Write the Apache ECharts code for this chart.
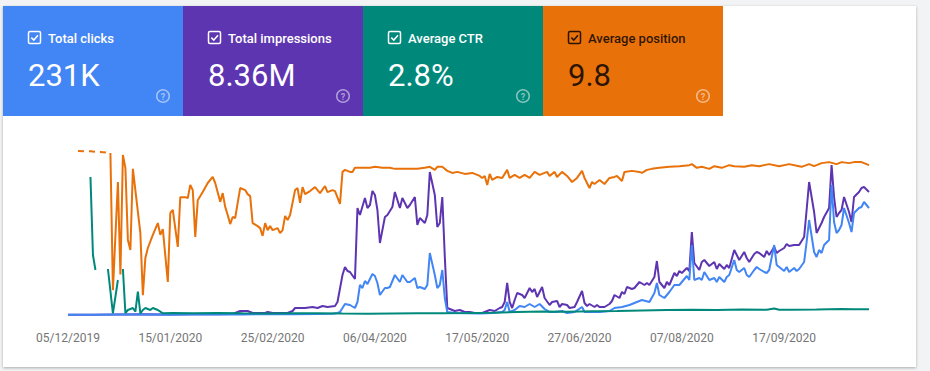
<!DOCTYPE html>
<html><head><meta charset="utf-8">
<script src="https://cdn.jsdelivr.net/npm/echarts@6/dist/echarts.min.js"></script>
<style>html,body{margin:0;padding:0;background:#f1f3f4;}#chart{width:930px;height:371px;}</style>
</head><body><div id="chart"></div>
<script>
// Tiles
const tileTitles = ['Total clicks', 'Total impressions', 'Average CTR', 'Average position'];
const tileValues = ['231K', '8.36M', '2.8%', '9.8'];
const tileColors = ['#4285f4', '#5e35b1', '#00897b', '#e8710a'];

// x axis: one category per day starting 05/12/2019, 322 days
const startDate = [2019, 12, 5];
const dayCount = 322;
const labelEvery = 41;

// Data: [day since 05/12/2019, value]
const clicks = [[0,8],[10,5],[20,12],[30,15],[40,10],[50,12],[60,14],[70,18],[80,20],[90,25],[100,30],[106,40],[108,60],[109,90],[111,330],[113,300],[115,210],[116,390],[117,900],[118,810],[119,1020],[120,930],[122,1230],[123,1170],[124,960],[125,600],[127,810],[128,810],[129,840],[131,1200],[133,990],[134,1200],[136,990],[137,990],[139,1110],[140,810],[141,840],[143,780],[144,900],[145,1860],[147,1200],[148,810],[149,900],[150,1350],[151,510],[152,90],[155,60],[160,50],[165,45],[170,60],[174,90],[175,150],[176,390],[177,90],[179,150],[181,270],[183,240],[185,330],[187,240],[189,330],[191,180],[193,90],[195,90],[198,120],[200,60],[203,90],[206,240],[207,90],[210,90],[213,90],[217,120],[219,210],[222,240],[225,300],[227,360],[230,450],[233,390],[235,660],[236,960],[237,600],[239,510],[241,690],[243,900],[245,900],[246,990],[248,1170],[249,1050],[250,2100],[251,1050],[253,1110],[254,1050],[255,1290],[257,1050],[259,1110],[260,990],[261,1140],[263,990],[264,1140],[265,1200],[267,1650],[268,1350],[269,1290],[271,1410],[272,1200],[273,1140],[275,1350],[276,1440],[277,1380],[279,1290],[280,1260],[281,1350],[283,2100],[284,1500],[285,1440],[287,1320],[288,1440],[289,1290],[291,1410],[292,1320],[293,1380],[295,1590],[296,2190],[297,2850],[299,1890],[300,1740],[301,1950],[302,1860],[303,2100],[305,2250],[306,3900],[307,2790],[308,2460],[309,2550],[310,2700],[311,3210],[313,2760],[314,2490],[315,3060],[317,3210],[318,3240],[319,3390],[321,3210]];

const impressions = [[0,200],[10,100],[20,300],[30,400],[40,300],[50,400],[60,500],[66,600],[69,2400],[72,2400],[74,1200],[76,1200],[79,1200],[80,1800],[82,1200],[86,1200],[88,1200],[90,2400],[91,4200],[94,4200],[95,4200],[98,4800],[100,4200],[102,5400],[104,4800],[107,5400],[108,7800],[110,24000],[111,28800],[112,26400],[113,25800],[115,21600],[116,64200],[117,60000],[119,70200],[120,64200],[121,66000],[122,74400],[123,72000],[124,63000],[125,43200],[127,58800],[128,60000],[130,64800],[131,73800],[133,64200],[134,70200],[136,64200],[137,66000],[139,70800],[140,54000],[141,58200],[143,55200],[144,60000],[145,85800],[147,72000],[148,52800],[149,55200],[150,70800],[151,35000],[152,4200],[155,2400],[157,3000],[159,1800],[161,1800],[163,1200],[166,1200],[169,3000],[171,2400],[173,4200],[174,4800],[175,7800],[176,19200],[177,7800],[178,4200],[179,9000],[180,13200],[182,12000],[183,10200],[185,16200],[186,13800],[187,15600],[188,10800],[189,13800],[190,16800],[191,10200],[193,6000],[194,7800],[196,8400],[197,4800],[198,6600],[200,6000],[201,4200],[203,4800],[204,7800],[206,14400],[207,7200],[208,5400],[209,6600],[211,4800],[212,6000],[213,4800],[215,4800],[217,6600],[218,8400],[219,12000],[221,10200],[222,13800],[223,12600],[224,16800],[226,15600],[227,16200],[228,18000],[229,19800],[231,18000],[232,19200],[233,18000],[235,22800],[236,32400],[237,19800],[239,16200],[240,19800],[241,18000],[243,25200],[244,23400],[245,26400],[246,25200],[248,28200],[249,26400],[250,49800],[251,31200],[253,27000],[254,31800],[255,33000],[257,29400],[259,31800],[260,27600],[261,30600],[263,27600],[264,30000],[265,28200],[267,39000],[268,36000],[269,33000],[271,37800],[272,34200],[273,31800],[275,36600],[276,37800],[277,37200],[279,34800],[280,38400],[281,36000],[283,40800],[284,37200],[285,38400],[287,40200],[288,42600],[289,41400],[291,42000],[293,42000],[295,46800],[296,63000],[297,79800],[299,61800],[300,49200],[301,52200],[302,55200],[303,58800],[305,64200],[306,90000],[307,70800],[308,58800],[309,61200],[310,63000],[311,70800],[313,61800],[314,55800],[315,70800],[317,73800],[318,76200],[319,76800],[321,73800]];

const ctr = [[9,82.8],[10,36],[11,27],[13,null],[16,27.6],[18,1.0],[20,21],[21,null],[22,27.6],[23,1.2],[24,3.0],[26,4.2],[27,2.0],[28,14],[29,1.0],[30,3.0],[31,4.2],[33,3.0],[34,4.2],[36,3.0],[37,2.0],[38,1.0],[42,1.2],[50,1.0],[60,1.2],[70,1.0],[80,0.9],[90,1.0],[100,1.1],[110,0.9],[120,0.8],[130,0.9],[140,1.0],[150,1.1],[160,1.2],[170,1.4],[180,1.8],[190,2.1],[200,2.0],[210,2.2],[220,2.4],[230,2.7],[240,3.0],[250,3.2],[260,3.0],[270,3.3],[280,3.1],[283,3.9],[285,3.2],[290,3.1],[300,3.3],[310,3.6],[315,3.4],[321,3.5]];

const positionPartial = [[4,1.3],[9,1.4],[13,1.6],[17,1.9]];
const position = [[17,1.9],[18,42.6],[20,10.5],[21,38],[22,2.5],[23,6.3],[24,27.7],[25,30.7],[26,6.6],[29,25.7],[30,44.1],[31,33.1],[32,30.1],[34,26.2],[36,22.7],[37,26.2],[38,24.5],[40,40.2],[41,19.7],[42,18.8],[44,29.8],[45,15.0],[47,15.0],[48,15.3],[49,11.4],[50,12.9],[51,26.8],[52,15.9],[54,13.5],[56,10.8],[58,9.0],[59,10.8],[61,16.4],[62,13.8],[63,17.9],[64,20.3],[65,23.0],[66,20.9],[67,21.2],[68,16.7],[69,12.3],[71,12.9],[72,14.1],[73,14.7],[74,22.7],[76,23.6],[77,24.2],[78,26.5],[79,22.7],[80,24.8],[81,23.6],[82,24.8],[84,24.2],[85,25.7],[86,24.8],[87,20.6],[88,21.8],[89,20.3],[91,12.9],[92,12.3],[93,16.7],[94,12.0],[95,14.1],[97,13.2],[99,12.0],[100,12.9],[101,13.8],[103,11.7],[104,13.5],[106,12.9],[107,13.2],[109,17.0],[110,7.5],[111,6.9],[113,7.5],[114,7.5],[115,6.3],[118,6.3],[121,6.3],[123,6.0],[126,6.3],[129,6.3],[131,6.6],[134,6.6],[137,6.6],[140,6.6],[143,6.3],[145,6.0],[147,6.9],[148,6.0],[150,6.0],[152,7.2],[154,7.8],[156,7.5],[159,8.1],[162,7.8],[165,8.7],[166,9.3],[167,8.7],[168,11.4],[169,8.1],[170,9.9],[172,9.0],[174,9.3],[176,6.9],[177,9.3],[179,8.4],[181,9.3],[183,8.4],[185,9.3],[187,7.5],[189,8.4],[192,7.5],[193,8.7],[195,7.5],[196,9.0],[198,7.5],[200,8.7],[202,10.5],[204,9.3],[206,7.2],[207,9.3],[209,12.3],[210,10.5],[211,11.1],[213,9.9],[214,10.5],[215,11.1],[217,9.3],[219,9.0],[220,8.7],[222,10.2],[223,7.5],[226,7.2],[229,7.5],[230,7.8],[232,6.9],[234,6.6],[237,6.3],[241,6.0],[245,5.8],[249,5.5],[250,5.2],[252,6.3],[254,6.0],[257,6.6],[259,5.8],[262,6.3],[265,5.5],[267,5.8],[271,6.0],[274,5.5],[277,5.8],[281,5.2],[285,5.8],[289,5.2],[293,5.8],[294,6.0],[297,5.2],[299,5.8],[302,4.9],[305,4.6],[308,5.2],[310,4.6],[313,4.9],[315,4.6],[318,4.6],[320,5.2],[321,5.5]];

// ---- build categories
const pad = n => (n < 10 ? '0' : '') + n;
const categories = [];
for (let i = 0; i < dayCount; i++) {
  const d = new Date(Date.UTC(startDate[0], startDate[1] - 1, startDate[2] + i));
  categories.push(pad(d.getUTCDate()) + '/' + pad(d.getUTCMonth() + 1) + '/' + d.getUTCFullYear());
}
const toData = arr => arr.map(([d, v]) => [categories[d], v == null ? '-' : v]);

// ---- graphic: card + tiles
const graphic = [{
  type: 'rect', shape: {x: 3, y: 6, width: 913, height: 361},
  style: {fill: '#ffffff', shadowBlur: 3, shadowColor: 'rgba(0,0,0,0.3)', shadowOffsetY: 1}, z: -10
}];
tileTitles.forEach((title, i) => {
  const left = 3 + 180 * i;
  const dark = i === 3;
  const fg = dark ? 'rgba(0,0,0,0.82)' : '#ffffff';
  graphic.push({type: 'rect', shape: {x: left, y: 6, width: 180, height: 110}, style: {fill: tileColors[i]}, z: -5});
  graphic.push({type: 'rect', shape: {x: left + 25.5, y: 31.5, width: 12, height: 12, r: 1.5},
    style: {fill: 'none', stroke: fg, lineWidth: 1.5}});
  graphic.push({type: 'polyline', shape: {points: [[left + 28.3, 37.6], [left + 30.8, 40.1], [left + 35, 35.2]]},
    style: {fill: 'none', stroke: fg, lineWidth: 1.5}});
  graphic.push({type: 'text', x: left + 45, y: 38,
    style: {text: title, fill: fg, font: '500 13px Roboto', verticalAlign: 'middle'}});
  graphic.push({type: 'text', x: left + 25, y: 75,
    style: {text: tileValues[i], fill: fg, font: '400 31px Roboto', verticalAlign: 'middle'}});
  graphic.push({type: 'circle', shape: {cx: left + 160, cy: 96, r: 6.3},
    style: {fill: 'none', stroke: 'rgba(255,255,255,0.5)', lineWidth: 1.5}});
  graphic.push({type: 'text', x: left + 160, y: 96.5,
    style: {text: '?', fill: 'rgba(255,255,255,0.5)', font: '700 9px Roboto', align: 'center', verticalAlign: 'middle'}});
});

const lineBase = {type: 'line', symbol: 'none', showSymbol: false, connectNulls: false, animation: false, silent: true};

const option = {
  animation: false,
  backgroundColor: 'transparent',
  graphic: graphic,
  grid: {left: 68, right: 61, top: 150, bottom: 56},
  xAxis: {
    type: 'category', data: categories, boundaryGap: false,
    axisLine: {show: false}, axisTick: {show: false}, splitLine: {show: false},
    axisLabel: {interval: labelEvery - 1, color: '#757575', fontSize: 12, fontFamily: 'Roboto', margin: 17}
  },
  yAxis: [
    {type: 'value', min: 0, max: 4950, show: false},
    {type: 'value', min: 0, max: 99000, show: false},
    {type: 'value', min: 0, max: 99, show: false},
    {type: 'value', min: 1, max: 50, inverse: true, show: false}
  ],
  series: [
    Object.assign({}, lineBase, {name: 'Impressions', yAxisIndex: 1, data: toData(impressions), lineStyle: {color: '#5e35b1', width: 2}}),
    Object.assign({}, lineBase, {name: 'Clicks', yAxisIndex: 0, data: toData(clicks), lineStyle: {color: '#4285f4', width: 2}}),
    Object.assign({}, lineBase, {name: 'CTR', yAxisIndex: 2, data: toData(ctr), lineStyle: {color: '#00897b', width: 2}}),
    Object.assign({}, lineBase, {name: 'Position (partial)', yAxisIndex: 3, data: toData(positionPartial), lineStyle: {color: '#e8710a', width: 2, type: [6, 5]}}),
    Object.assign({}, lineBase, {name: 'Position', yAxisIndex: 3, data: toData(position), lineStyle: {color: '#e8710a', width: 2}})
  ]
};
const chart = echarts.init(document.getElementById('chart'), null, {renderer: 'svg'});
chart.setOption(option);
</script></body></html>
